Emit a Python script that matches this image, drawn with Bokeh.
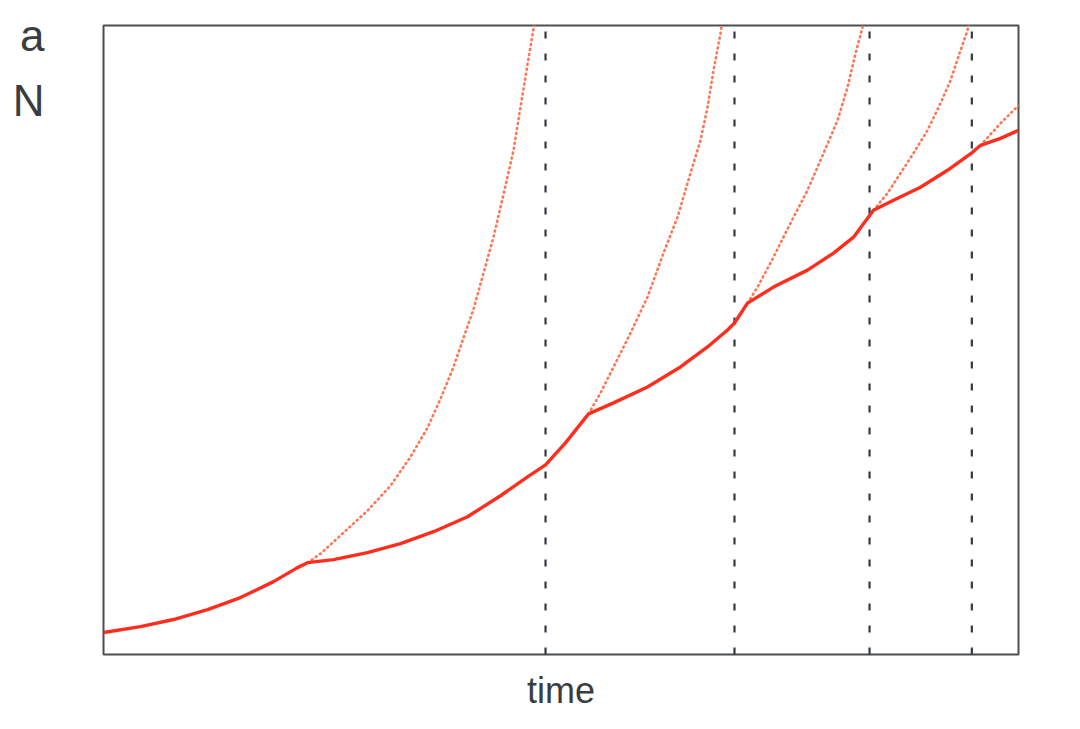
from bokeh.plotting import figure
from bokeh.models import Range1d, FixedTicker
from bokeh.embed import file_html
from bokeh.resources import INLINE

# Solid trajectory N(time)
solid_t = [0.0, 4.04, 7.65, 11.37, 14.97, 18.58, 21.20, 22.30, 25.14, 28.85, 32.46, 36.07,
           39.78, 43.39, 46.34, 48.31, 50.49, 53.01, 55.74, 59.45, 63.06, 66.01, 68.20,
           68.96, 70.38, 73.22, 76.94, 79.78, 81.97, 84.15, 86.34, 89.29, 92.24, 94.97,
           95.85, 98.03, 100.0]
solid_n = [3.49, 4.44, 5.56, 7.14, 9.05, 11.59, 13.81, 14.60, 15.08, 16.19, 17.62, 19.52,
           21.90, 25.24, 28.25, 30.16, 33.65, 38.25, 40.00, 42.54, 45.71, 48.89, 51.59,
           52.70, 55.87, 58.41, 61.11, 63.81, 66.35, 70.63, 72.22, 74.29, 76.98, 79.84,
           80.95, 82.06, 83.33]

# Dotted branches (unchecked growth)
d1_t = [22.30, 23.72, 26.23, 28.85, 31.37, 33.55, 35.41, 36.83, 38.25, 39.34, 40.44,
        41.53, 42.62, 43.72, 44.81, 45.57, 46.34, 47.00, 47.21]
d1_n = [14.60, 16.03, 19.37, 22.86, 26.83, 31.43, 36.03, 40.63, 45.71, 50.32, 54.92,
        60.63, 66.35, 73.17, 80.16, 86.98, 93.81, 99.52, 101.1]
d2_t = [53.01, 54.32, 55.74, 57.60, 59.45, 61.20, 62.73, 64.15, 65.25, 66.01, 66.67, 67.43, 67.65]
d2_n = [38.25, 41.59, 45.71, 51.11, 56.83, 63.81, 69.52, 76.51, 81.75, 86.98, 92.86, 98.73, 101.1]
d3_t = [70.38, 71.48, 73.22, 75.08, 76.94, 78.69, 80.22, 81.31, 82.19, 82.95, 83.17]
d3_n = [55.87, 58.41, 63.17, 68.57, 73.81, 79.68, 84.92, 90.16, 95.56, 99.68, 101.1]
d4_t = [84.15, 85.68, 87.10, 88.52, 90.05, 91.47, 92.57, 93.66, 94.43, 94.64]
d4_n = [70.63, 73.33, 76.51, 79.68, 83.33, 87.62, 91.27, 96.03, 99.21, 100.8]
d5_t = [95.85, 98.03, 100.0]
d5_n = [80.95, 84.44, 87.30]

# Event times (dashed verticals)
event_t = [48.31, 68.96, 83.72, 94.90]

# Left-side labels ("a" panel tag, "N" axis name)
left_label_pos = [98.4, 88.1]
left_label_text = ["a", "N"]

p = figure(width=1064, height=713, output_backend="svg", toolbar_location=None,
           x_range=Range1d(0, 100), y_range=Range1d(0, 100),
           min_border_left=103, min_border_right=46, min_border_top=25, min_border_bottom=58)
p.xgrid.visible = False
p.ygrid.visible = False
p.background_fill_color = "white"
p.border_fill_color = "white"
p.outline_line_color = "#4a4f52"
p.outline_line_width = 2
p.outline_line_alpha = 1.0

p.xaxis.axis_label = "time"
p.xaxis.axis_label_text_font = "Liberation Sans"
p.xaxis.axis_label_text_font_size = "36px"
p.xaxis.axis_label_text_font_style = "normal"
p.xaxis.axis_label_text_color = "#3a3d40"
p.xaxis.axis_label_standoff = 15
p.xaxis.major_tick_line_color = None
p.xaxis.minor_tick_line_color = None
p.xaxis.major_label_text_font_size = "0px"
p.xaxis.axis_line_color = None
p.xaxis.ticker = []

p.yaxis.ticker = FixedTicker(ticks=left_label_pos)
p.yaxis.major_label_overrides = {v: t for v, t in zip(left_label_pos, left_label_text)}
p.yaxis.major_tick_line_color = None
p.yaxis.minor_tick_line_color = None
p.yaxis.axis_line_color = None
p.yaxis.major_label_standoff = 53
p.yaxis.major_label_text_font = "Liberation Sans"
p.yaxis.major_label_text_font_size = "44px"
p.yaxis.major_label_text_color = "#3a3d40"

dot_color = "#ff7452"
for tt, nn in [(d1_t, d1_n), (d2_t, d2_n), (d3_t, d3_n), (d4_t, d4_n), (d5_t, d5_n)]:
    p.line(tt, nn, line_color=dot_color, line_width=2.6, line_dash="1 4", line_cap="round",
           line_join="round")

p.segment(x0=event_t, y0=[0] * len(event_t), x1=event_t, y1=[100] * len(event_t),
          line_color="#333a40", line_width=2.2, line_dash="7 15")

p.line(solid_t, solid_n, line_color="#ff2d1e", line_width=3.4, line_join="round")

open("out.html", "w").write(file_html(p, INLINE))
